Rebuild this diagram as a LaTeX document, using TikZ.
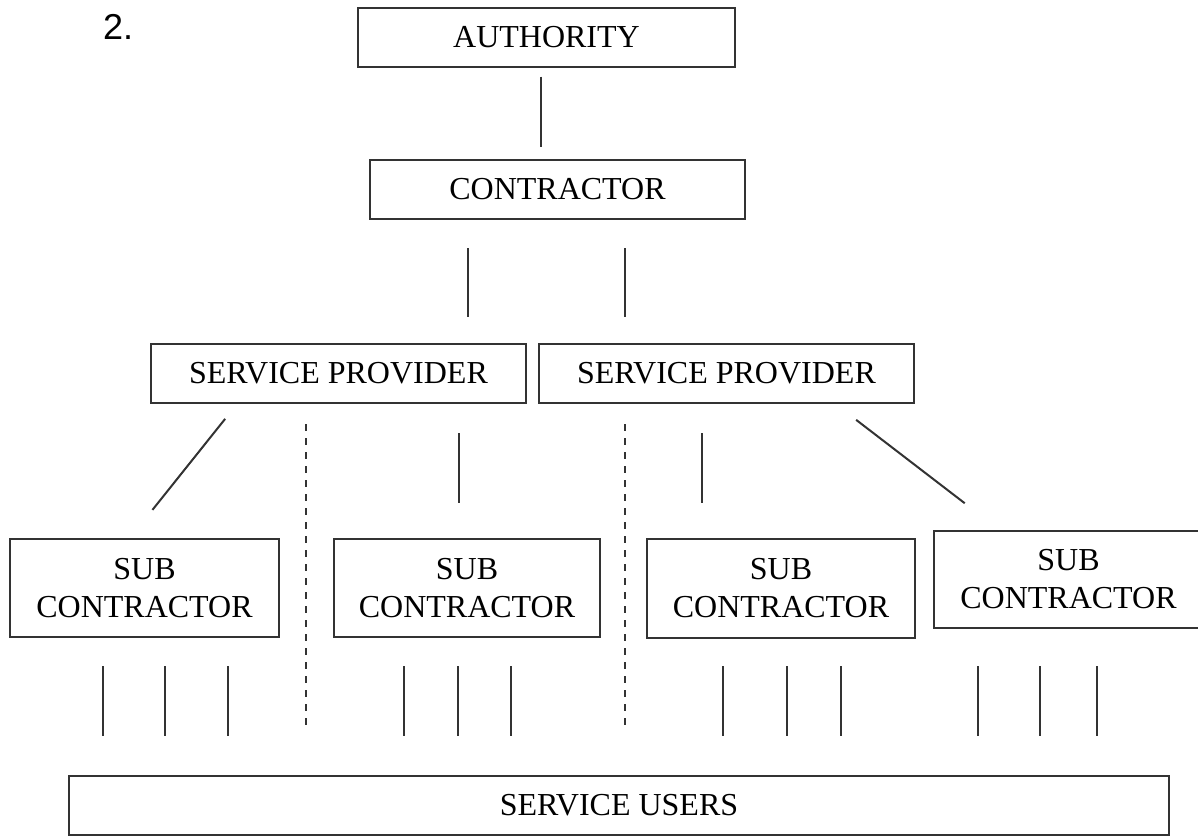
\documentclass[tikz,border=0pt]{standalone}
\usepackage{fontspec}
\setmainfont{Liberation Serif}
\newfontfamily\numfont{Liberation Sans}
\definecolor{linegray}{HTML}{333333}
\tikzset{
  box/.style={draw=linegray, line width=2pt, inner sep=0pt, minimum height=59pt,
    align=center, font=\fontsize{32}{38}\selectfont},
  link/.style={draw=linegray, line width=2pt},
  sep/.style={link, dash pattern=on 7pt off 7pt}
}
\begin{document}
\begin{tikzpicture}[x=1pt,y=-1pt]
        \useasboundingbox (0,0) rectangle (1198,836);
        \node[anchor=base west, inner sep=0pt, font=\numfont\fontsize{36}{40}\selectfont] (num) at (103,39) {2.};
        \node[box, minimum width=377pt] (auth) at (546.5,37) {AUTHORITY};
        \node[box, minimum width=375pt] (contr) at (557.5,189.5) {CONTRACTOR};
        \node[box, minimum width=375pt] (sp1) at (338.5,373.5) {SERVICE PROVIDER};
        \node[box, minimum width=375pt] (sp2) at (726.5,373.5) {SERVICE PROVIDER};
        \node[box, minimum width=269pt, minimum height=98pt] (sc1) at (144.5,588) {SUB\\CONTRACTOR};
        \node[box, minimum width=266pt, minimum height=98pt] (sc2) at (467,588) {SUB\\CONTRACTOR};
        \node[box, minimum width=268pt, minimum height=99pt] (sc3) at (781,588.5) {SUB\\CONTRACTOR};
        \node[box, minimum width=269pt, minimum height=97pt] (sc4) at (1068.5,579.5) {SUB\\CONTRACTOR};
        \node[box, minimum width=1100pt] (users) at (619,805.5) {SERVICE USERS};
        \draw[link, shorten <=9pt, shorten >=12pt] (auth.south -| 541,0) -- (contr.north -| 541,0);
        \draw[link, shorten <=28pt, shorten >=26pt] (contr.south -| 468,0) -- (sp1.north -| 468,0);
        \draw[link, shorten <=28pt, shorten >=26pt] (contr.south -| 625,0) -- (sp2.north -| 625,0);
        \draw[link, shorten <=19pt, shorten >=36pt] (sp1.south -| 237,0) -- (sc1.north -| 130,0);
        \draw[link, shorten <=29pt, shorten >=35pt] (sp1.south -| 459,0) -- (sc2.north -| 459,0);
        \draw[link, shorten <=29pt, shorten >=35pt] (sp2.south -| 702,0) -- (sc3.north -| 702,0);
        \draw[link, shorten <=26pt, shorten >=44pt] (sp2.south -| 835.5,0) -- (sc4.north -| 999.6,0);
        \draw[sep, shorten <=20pt, shorten >=44pt] (sp1.south -| 306,0) -- (users.north -| 306,0);
        \draw[sep, shorten <=20pt, shorten >=45pt] (sp2.south -| 625,0) -- (users.north -| 625,0);
        \foreach \sc/\gap/\xa/\xb/\xc in {sc1/28/103/165/228, sc2/28/404/458/511,
            sc3/27/723/787/841, sc4/37/978/1040/1097}
          \foreach \x in {\xa,\xb,\xc}
            \draw[link, shorten <=\gap pt, shorten >=39pt] (\sc.south -| \x,0) -- (users.north -| \x,0);
      \end{tikzpicture}
\end{document}
